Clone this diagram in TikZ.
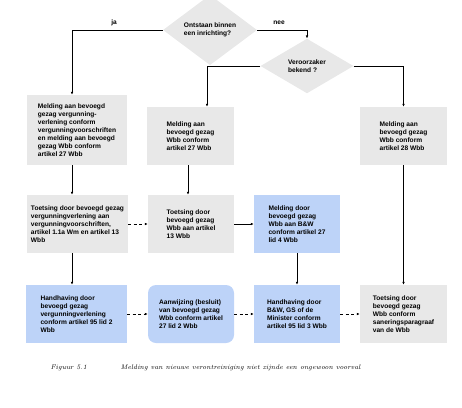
\documentclass[tikz,border=0pt]{standalone}
\usepackage{fontspec}
\newfontfamily\boxfont{Liberation Sans}
\usetikzlibrary{shapes.geometric, arrows.meta}

\definecolor{boxgray}{RGB}{232,232,232}
\definecolor{boxblue}{RGB}{189,211,248}

\begin{document}
\begin{tikzpicture}[x = 1pt, y = -1pt,
  box/.style = {fill = boxgray, align = left, inner sep = 0pt, minimum height = 58pt,
                font = \boxfont\bfseries\fontsize{6.6pt}{8pt}\selectfont},
  bluebox/.style = {box, fill = boxblue},
  choice/.style = {diamond, fill = boxgray, align = left, inner sep = 1pt,
                   font = \boxfont\bfseries\fontsize{6.6pt}{8pt}\selectfont},
  lbl/.style = {font = \boxfont\bfseries\fontsize{6.6pt}{8pt}\selectfont},
  arr/.style = {-{Latex[length = 3pt, width = 2.6pt]}, line width = 0.65pt},
  dasharr/.style = {arr, dash pattern = on 3pt off 2.5pt},
  caption/.style = {anchor = west, font = \itshape\fontsize{6.7pt}{8pt}\selectfont}]

\useasboundingbox (0, 0) rectangle (462, 407);

\node[choice, minimum width = 94pt, minimum height = 52pt] (ontstaan) at (210, 30)
  {Ontstaan binnen\\een inrichting?};
\node[choice, minimum width = 93pt, minimum height = 54pt] (veroorzaker) at (307, 66)
  {Veroorzaker\\bekend ?};

\node[box, minimum width = 100pt, minimum height = 70pt] (meldA) at (77, 130)
  {Melding aan bevoegd\\gezag vergunning-\\verlening conform\\vergunningvoorschriften\\en melding aan bevoegd\\gezag Wbb conform\\artikel 27 Wbb};
\node[box, minimum width = 87pt] (meldB) at (190.5, 136)
  {Melding aan\\bevoegd gezag\\Wbb conform\\artikel 27 Wbb};
\node[box, minimum width = 87pt] (meldC) at (403.5, 136)
  {Melding aan\\bevoegd gezag\\Wbb conform\\artikel 28 Wbb};

\node[box, minimum width = 101pt] (toetsA) at (77.5, 224)
  {Toetsing door bevoegd gezag\\vergunningverlening aan\\vergunningvoorschriften,\\artikel 1.1a Wm en artikel 13\\Wbb};
\node[box, minimum width = 86pt] (toetsB) at (191, 224)
  {Toetsing door\\bevoegd gezag\\Wbb aan artikel\\13 Wbb};
\node[bluebox, minimum width = 86pt] (meldBW) at (297, 224)
  {Melding door\\bevoegd gezag\\Wbb aan B\&W\\conform artikel 27\\lid 4 Wbb};

\node[bluebox, minimum width = 101pt] (handA) at (76.5, 314)
  {Handhaving door\\bevoegd gezag\\vergunningverlening\\conform artikel 95 lid 2\\Wbb};
\node[bluebox, minimum width = 86pt, rounded corners = 8pt] (aanwijz) at (191, 314)
  {Aanwijzing (besluit)\\van bevoegd gezag\\Wbb conform artikel\\27 lid 2 Wbb};
\node[bluebox, minimum width = 86pt] (handBW) at (297, 314)
  {Handhaving door\\B\&W, GS of de\\Minister conform\\artikel 95 lid 3 Wbb};
\node[box, minimum width = 87pt] (toetsC) at (403.5, 314)
  {Toetsing door\\bevoegd gezag\\Wbb conform\\saneringsparagraaf\\van de Wbb};

\coordinate (jaline) at (72, 0);
\coordinate (neeline) at (207, 0);
\coordinate (wbbline) at (188, 0);

\draw[arr] (ontstaan.west) -| (jaline |- meldA.north);
\draw[arr] (ontstaan.east) -| (veroorzaker.north);
\draw[arr] (veroorzaker.west) -| (neeline |- meldB.north);
\draw[arr] (veroorzaker.east) -| (meldC.north);

\node[lbl] (ja) at (114, 23) {ja};
\node[lbl] (nee) at (279, 23) {nee};

\draw[arr] (jaline |- meldA.south) -- (jaline |- toetsA.north);
\draw[arr] (wbbline |- meldB.south) -- (wbbline |- toetsB.north);
\draw[dasharr] (toetsA.east) -- (toetsB.west);
\draw[arr] (toetsB.east) -- (meldBW.west);

\draw[arr] (jaline |- toetsA.south) -- (jaline |- handA.north);
\draw[arr] (meldBW.south) -- (handBW.north);
\draw[arr] (meldC.south) -- (toetsC.north);

\draw[dasharr] (handA.east) -- (aanwijz.west);
\draw[dasharr] (aanwijz.east) -- (handBW.west);
\draw[dasharr] (handBW.east) -- (toetsC.west);

\node[caption] (fignum) at (47, 368) {Figuur \oldstylenums{5.1}};
\node[caption] (figtitle) at (117, 368)
  {Melding van nieuwe verontreiniging niet zijnde een ongewoon voorval};

\end{tikzpicture}
\end{document}
